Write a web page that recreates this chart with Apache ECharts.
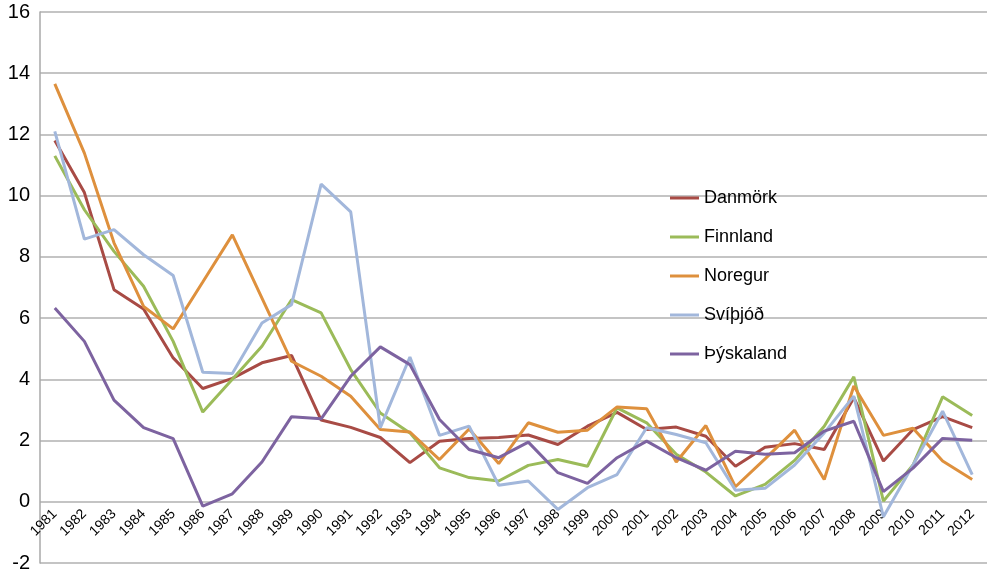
<!DOCTYPE html>
<html>
<head>
<meta charset="utf-8">
<script src="https://cdn.jsdelivr.net/npm/echarts@6/dist/echarts.min.js"></script>
<style>html,body{margin:0;padding:0;background:#fff;}#c{width:990px;height:573px;}</style>
</head>
<body>
<div id="c"></div>
<script>
const years = ['1981','1982','1983','1984','1985','1986','1987','1988','1989','1990','1991','1992','1993','1994','1995','1996','1997','1998','1999','2000','2001','2002','2003','2004','2005','2006','2007','2008','2009','2010','2011','2012'];
const danmork   = [11.8,10.1,6.93,6.3,4.7,3.7,4.03,4.54,4.78,2.67,2.43,2.1,1.28,1.98,2.07,2.1,2.18,1.87,2.47,2.92,2.36,2.44,2.14,1.16,1.78,1.9,1.71,3.4,1.33,2.36,2.78,2.42];
const finnland  = [11.3,9.54,8.18,7.04,5.24,2.93,4.0,5.08,6.6,6.17,4.32,2.9,2.25,1.11,0.79,0.68,1.19,1.38,1.16,3.07,2.58,1.55,0.97,0.19,0.57,1.35,2.47,4.08,0.02,1.2,3.43,2.82];
const noregur   = [13.65,11.39,8.46,6.38,5.65,7.18,8.72,6.65,4.59,4.1,3.45,2.36,2.28,1.38,2.38,1.25,2.58,2.27,2.34,3.1,3.04,1.3,2.49,0.49,1.4,2.34,0.73,3.78,2.17,2.4,1.33,0.73];
const svithjod  = [12.1,8.58,8.89,8.07,7.39,4.23,4.19,5.84,6.44,10.38,9.47,2.42,4.73,2.17,2.47,0.54,0.68,-0.25,0.46,0.89,2.42,2.2,1.93,0.38,0.44,1.2,2.25,3.45,-0.49,1.2,2.96,0.89];
const thyskaland= [6.33,5.24,3.32,2.42,2.06,-0.14,0.26,1.3,2.78,2.71,4.1,5.06,4.48,2.69,1.71,1.44,1.95,0.95,0.6,1.44,1.98,1.44,1.03,1.65,1.55,1.6,2.31,2.63,0.33,1.1,2.07,2.01];
const yTicks = {min: -2, max: 16, interval: 2};

const names = ['Danmörk','Finnland','Noregur','Svíþjóð','Þýskaland'];
const colors = ['#A84B45','#9BBB59','#DE903D','#A2B7DB','#7D63A0'];
const data = [danmork, finnland, noregur, svithjod, thyskaland];
const font = 'Liberation Sans, Arial, Helvetica, sans-serif';

const gridTop = 12, gridBottom = 10, H = 573;
const zeroOffset = -(H - gridTop - gridBottom) * (0 - yTicks.min) / (yTicks.max - yTicks.min);

const chart = echarts.init(document.getElementById('c'), null, {renderer: 'canvas'});
chart.setOption({
  animation: false,
  backgroundColor: '#ffffff',
  color: colors,
  grid: {left: 40, right: 3, top: gridTop, bottom: gridBottom, containLabel: false, outerBoundsMode: 'none'},
  legend: {
    orient: 'vertical',
    left: 670,
    top: 189,
    padding: 0,
    itemWidth: 29,
    itemHeight: 3,
    itemGap: 21,
    icon: 'rect',
    textStyle: {fontFamily: font, fontSize: 18, color: '#000', lineHeight: 18},
    data: names
  },
  xAxis: {
    type: 'category',
    data: years,
    boundaryGap: true,
    position: 'bottom',
    offset: zeroOffset,
    axisLine: {show: false, onZero: false},
    axisTick: {show: false},
    axisLabel: {rotate: 45, fontFamily: font, fontSize: 14, color: '#000', margin: 10, interval: 0},
    splitLine: {show: false}
  },
  yAxis: {
    type: 'value',
    min: yTicks.min, max: yTicks.max, interval: yTicks.interval,
    axisLine: {show: true, lineStyle: {color: '#a8a8a8', width: 1.5}},
    axisTick: {show: false},
    axisLabel: {fontFamily: font, fontSize: 20, color: '#000', margin: 10},
    splitLine: {show: true, lineStyle: {color: '#b0b0b0', width: 1.5}}
  },
  series: names.map((n, i) => ({
    name: n,
    type: 'line',
    data: data[i],
    symbol: 'none',
    lineStyle: {width: 3, color: colors[i]},
    itemStyle: {color: colors[i]}
  }))
});
</script>
</body>
</html>
